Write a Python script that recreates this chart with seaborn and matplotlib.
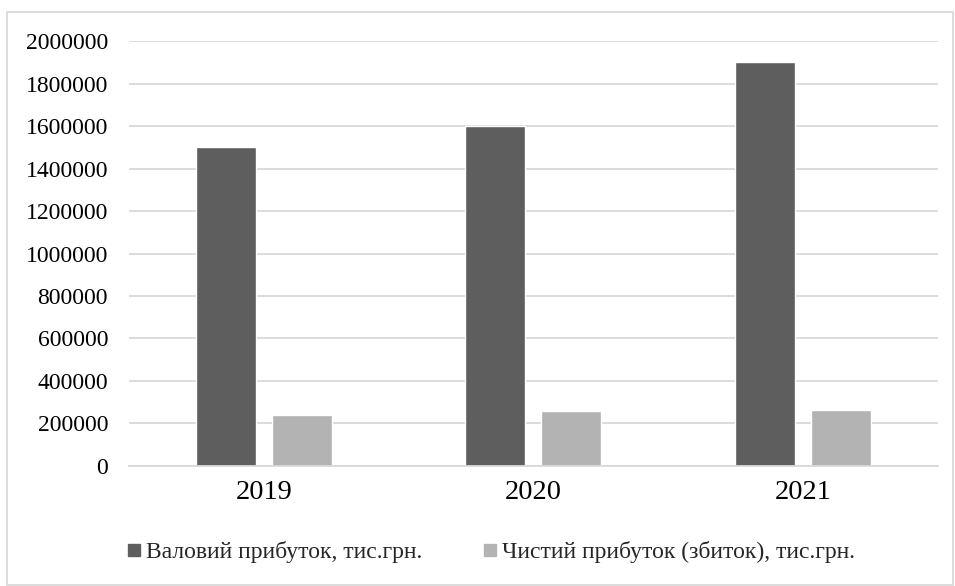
import pandas as pd
import matplotlib.pyplot as plt
from matplotlib.patches import Rectangle
from matplotlib.lines import Line2D
from matplotlib.ticker import FormatStrFormatter
import seaborn as sns

# --- дані з діаграми ---
years = ['2019', '2020', '2021']
series_names = ['Валовий прибуток, тис.грн.', 'Чистий прибуток (збиток), тис.грн.']
gross_profit = [1500000, 1600000, 1900000]
net_profit = [240000, 257000, 262000]
colors = ['#5e5e5e', '#b3b3b3']

df = pd.DataFrame({
    'year': years * 2,
    'value': gross_profit + net_profit,
    'series': [series_names[0]] * 3 + [series_names[1]] * 3,
})

sns.set_style('white')
plt.rcParams['font.family'] = ['Liberation Serif', 'DejaVu Serif']

fig = plt.figure(figsize=(9.55, 5.86), dpi=100)
ax = fig.add_axes([0.135, 0.2048, 0.847, 0.7252])

sns.barplot(data=df, x='year', y='value', hue='series', palette=colors,
            width=0.564, gap=0.21, ax=ax, legend=False, saturation=1)

ax.set_ylim(0, 2000000)
ax.set_yticks(range(0, 2000001, 200000))
ax.yaxis.set_major_formatter(FormatStrFormatter('%d'))
ax.set_xlim(-0.5, 2.5)
ax.grid(axis='y', color='#d9d9d9', linewidth=1.3)
ax.set_axisbelow(True)
for s in ['top', 'right', 'left']:
    ax.spines[s].set_visible(False)
ax.spines['bottom'].set_color('#d9d9d9')
ax.spines['bottom'].set_linewidth(1.3)
ax.set_xlabel('')
ax.set_ylabel('')
ax.tick_params(axis='y', labelsize=17, length=0, pad=15, colors='black')
ax.tick_params(axis='x', labelsize=20.5, length=0, pad=10, colors='black')

# легенда внизу
handles = [Line2D([0], [0], marker='s', linestyle='', markersize=8.5,
                  markerfacecolor=c, markeredgecolor=c) for c in colors]
fig.legend(handles, series_names, loc='center', bbox_to_anchor=(0.514, 0.058),
           ncol=2, frameon=False, fontsize=17, handletextpad=0.2,
           columnspacing=2.6, handlelength=0.6)

# рамка навколо діаграми
fig.patches.append(Rectangle((7 / 955, 1 / 586), 946 / 955, 573 / 586,
                             transform=fig.transFigure, fill=False,
                             edgecolor='#d9d9d9', linewidth=1.3))

fig.savefig('out.png', dpi=100)
